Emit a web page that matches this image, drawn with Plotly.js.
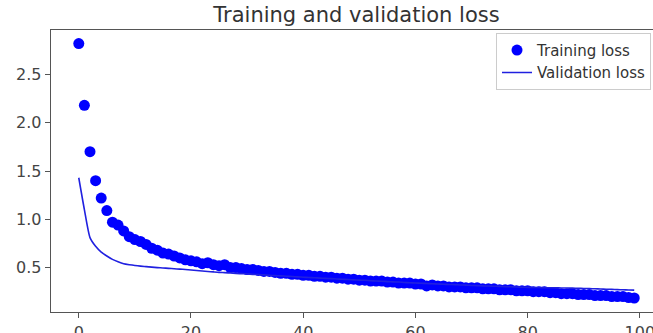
<!DOCTYPE html>
<html>
<head>
<meta charset="utf-8">
<script src="https://cdn.plot.ly/plotly-3.0.1.min.js"></script>
<style>
html,body{margin:0;padding:0;overflow:hidden;background:#fff;width:653px;height:333px;}
#chart{width:680px;height:333px;}
</style>
</head>
<body>
<div id="chart"></div>
<script>
const epochs = Array.from({length: 100}, (_, i) => i);
const trainingLoss = [
  2.82, 2.18, 1.70, 1.40, 1.22, 1.09, 0.97, 0.94, 0.88, 0.82,
  0.79, 0.77, 0.74, 0.70, 0.68, 0.65, 0.64, 0.62, 0.60, 0.58,
  0.57, 0.56, 0.54, 0.55, 0.53, 0.52, 0.53, 0.50, 0.50, 0.49,
  0.48, 0.48, 0.47, 0.46, 0.46, 0.45, 0.44, 0.44, 0.43, 0.43,
  0.42, 0.42, 0.41, 0.41, 0.40, 0.40, 0.39, 0.39, 0.38, 0.38,
  0.37, 0.37, 0.36, 0.36, 0.36, 0.35, 0.35, 0.34, 0.34, 0.34,
  0.33, 0.33, 0.31, 0.32, 0.31, 0.31, 0.30, 0.30, 0.30, 0.29,
  0.29, 0.29, 0.28, 0.28, 0.28, 0.27, 0.27, 0.27, 0.26, 0.26,
  0.26, 0.25, 0.25, 0.25, 0.24, 0.24, 0.23, 0.23, 0.23, 0.22,
  0.22, 0.22, 0.21, 0.21, 0.21, 0.20, 0.20, 0.20, 0.19, 0.185
];
const validationLoss = [
  1.43, 1.10, 0.81, 0.72, 0.66, 0.62, 0.585, 0.56, 0.54, 0.53,
  0.522, 0.515, 0.51, 0.505, 0.50, 0.496, 0.492, 0.488, 0.484, 0.48,
  0.475, 0.47, 0.465, 0.46, 0.455, 0.45, 0.448, 0.445, 0.44, 0.437,
  0.434, 0.43, 0.427, 0.424, 0.42, 0.417, 0.414, 0.41, 0.407, 0.404,
  0.40, 0.397, 0.395, 0.391, 0.388, 0.386, 0.382, 0.379, 0.377, 0.373,
  0.370, 0.368, 0.364, 0.361, 0.359, 0.355, 0.352, 0.350, 0.346, 0.343,
  0.340, 0.338, 0.335, 0.333, 0.330, 0.328, 0.325, 0.323, 0.320, 0.318,
  0.315, 0.313, 0.311, 0.309, 0.307, 0.305, 0.303, 0.301, 0.299, 0.297,
  0.295, 0.294, 0.293, 0.292, 0.291, 0.290, 0.289, 0.288, 0.287, 0.286,
  0.284, 0.282, 0.280, 0.278, 0.276, 0.274, 0.272, 0.270, 0.268, 0.266
];
const xTicks = [0, 20, 40, 60, 80, 100];
const yTicks = [0.5, 1.0, 1.5, 2.0, 2.5];
const yTickLabels = ['0.5', '1.0', '1.5', '2.0', '2.5'];

const traces = [
  {
    x: epochs, y: trainingLoss, name: 'Training loss', type: 'scatter', mode: 'markers',
    marker: {color: '#0000ff', size: 11}
  },
  {
    x: epochs, y: validationLoss, name: 'Validation loss', type: 'scatter', mode: 'lines',
    line: {color: '#2020e0', width: 1.6, shape: 'spline', smoothing: 0.6}
  }
];

const axisFont = {family: 'DejaVu Sans', size: 16, color: '#444'};
const layout = {
  width: 680, height: 333,
  margin: {l: 51, r: 18, t: 30, b: 21},
  paper_bgcolor: '#fff', plot_bgcolor: '#fff',
  title: {text: 'Training and validation loss', font: {family: 'DejaVu Sans', size: 21, color: '#333'},
          x: 0.5, xref: 'paper', xanchor: 'center', y: 0.955, yanchor: 'middle'},
  xaxis: {range: [-4.95, 103.95], tickvals: xTicks, ticktext: xTicks.map(String),
          showgrid: false, zeroline: false, showline: true, mirror: true, linecolor: '#555', linewidth: 1.3,
          ticks: 'outside', ticklen: 5, tickcolor: '#555', tickfont: axisFont},
  yaxis: {range: [0.04, 2.96], tickvals: yTicks, ticktext: yTickLabels,
          showgrid: false, zeroline: false, showline: true, mirror: true, linecolor: '#555', linewidth: 1.3,
          ticks: 'outside', ticklen: 5, tickcolor: '#555', tickfont: axisFont},
  legend: {x: 0.982, y: 0.99, xanchor: 'right', yanchor: 'top',
           bgcolor: '#fff', bordercolor: '#ccc', borderwidth: 1,
           font: {family: 'DejaVu Sans', size: 15, color: '#333'}, tracegroupgap: 0},
  showlegend: true
};
Plotly.newPlot('chart', traces, layout, {displayModeBar: false, staticPlot: true});
</script>
</body>
</html>
